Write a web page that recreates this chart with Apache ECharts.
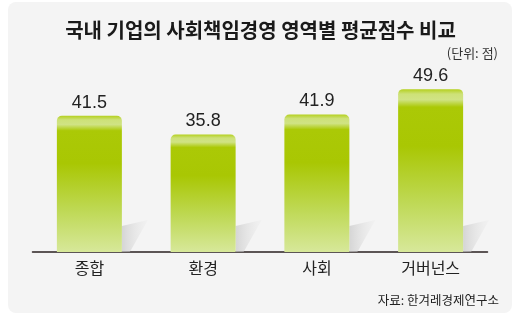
<!DOCTYPE html>
<html><head><meta charset="utf-8">
<script src="https://cdn.jsdelivr.net/npm/echarts@6/dist/echarts.min.js"></script>
<style>html,body{margin:0;padding:0;background:#fff}#c{width:521px;height:322px}</style>
</head><body><div id="c"></div>
<script>
const categories = ['종합', '환경', '사회', '거버넌스'];
const values = [41.5, 35.8, 41.9, 49.6];
const titleText = '국내 기업의 사회책임경영 영역별 평균점수 비교';
const unitText = '(단위: 점)';
const sourceText = '자료: 한겨레경제연구소';

const chart = echarts.init(document.getElementById('c'), null, {renderer: 'canvas'});
const font = '"Liberation Sans", "Noto Sans CJK KR", sans-serif';
const kfont = '"Noto Sans CJK KR", sans-serif';

chart.setOption({
  backgroundColor: '#ffffff',
  animation: false,
  graphic: [
    {type: 'rect', z: -10, shape: {x: 8, y: 2, width: 504, height: 311, r: 8}, style: {fill: '#f4f4f4'}},
    {type: 'text', left: 'center', top: 20, style: {text: titleText, font: 'bold 20px ' + kfont, fill: '#1a1a1a'}},
    {type: 'text', right: 23, top: 47, style: {text: unitText, font: '13px ' + kfont, fill: '#333'}},
    {type: 'text', right: 22, top: 294, style: {text: sourceText, font: '12.5px ' + kfont, fill: '#222'}}
  ],
  grid: {left: 32.5, right: 33.5, top: 55, bottom: 70},
  xAxis: {
    type: 'category', data: categories,
    axisLine: {lineStyle: {color: '#2a2020', width: 1.5}},
    axisTick: {show: false},
    axisLabel: {color: '#222', fontSize: 16, fontFamily: kfont, margin: 8}
  },
  yAxis: {type: 'value', min: 0, max: 60, show: false, splitLine: {show: false}},
  series: [
    {
      type: 'custom', z: 1, silent: true,
      data: values.map((v, i) => [i, v]),
      renderItem: function (params, api) {
        const base = api.coord([api.value(0), 0]);
        const bw = 65;
        const r = base[0] + bw / 2;
        const y = base[1];
        return {
          type: 'polygon',
          shape: {points: [[r, y], [r, y - 26], [r + 26, y - 32], [r + 8, y]]},
          style: {fill: new echarts.graphic.LinearGradient(0, 0, 1, 0, [
            {offset: 0, color: 'rgba(200,200,200,0.7)'},
            {offset: 1, color: 'rgba(230,230,230,0.2)'}
          ])}
        };
      }
    },
    {
      type: 'bar', z: 2, data: values, barWidth: 65,
      itemStyle: {
        borderRadius: [5, 5, 0, 0],
        color: new echarts.graphic.LinearGradient(0, 0, 0, 1, [
          {offset: 0, color: '#b4d01c'},
          {offset: 0.03, color: '#cde178'},
          {offset: 0.065, color: '#d0e384'},
          {offset: 0.11, color: '#abc906'},
          {offset: 0.35, color: '#a9c703'},
          {offset: 0.7, color: '#bfd956'},
          {offset: 1, color: '#d7e89a'}
        ])
      },
      label: {show: true, position: 'top', distance: 4, color: '#222', fontSize: 18, fontFamily: font}
    }
  ]
});
</script></body></html>
